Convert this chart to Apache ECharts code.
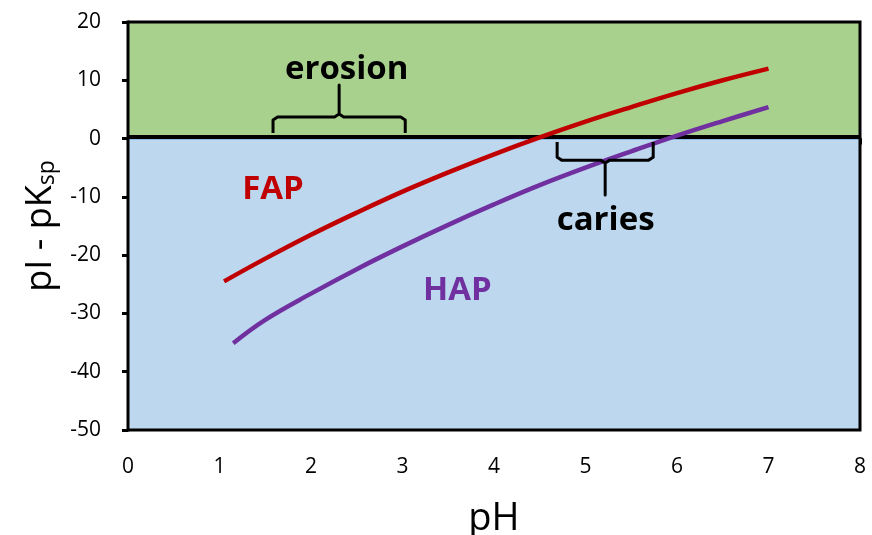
<!DOCTYPE html>
<html><head><meta charset="utf-8">
<script src="https://cdn.jsdelivr.net/npm/echarts@6/dist/echarts.min.js"></script>
<style>html,body{margin:0;padding:0;background:#fff}#c{width:872px;height:535px}</style>
</head><body><div id="c"></div>
<script>
// Data
const fapPH = [1.05, 1.5, 2, 2.5, 3, 3.5, 4, 4.5, 5, 5.5, 6, 6.5, 7];
const fapVal = [-24.5, -20.6, -16.5, -12.7, -9.1, -5.8, -2.7, 0.2, 2.9, 5.4, 7.8, 10.0, 12.0];
const hapPH = [1.15, 1.5, 2, 2.5, 3, 3.5, 4, 4.5, 5, 5.5, 6, 6.5, 7];
const hapVal = [-35.1, -31.1, -26.6, -22.4, -18.5, -14.8, -11.3, -8.0, -5.0, -2.2, 0.5, 3.0, 5.4];
const erosionRange = [1.585, 3.03];
const cariesRange = [4.69, 5.74];
const labels = [
  {text: 'FAP', x: 1.585, y: -8.8, color: '#c00000'},
  {text: 'HAP', x: 3.6, y: -26, color: '#7030a0'},
  {text: 'erosion', x: 2.39, y: 11.8, color: '#000000'},
  {text: 'caries', x: 5.22, y: -14, color: '#000000'}
];
const FONT = '"Open Sans", Lato, sans-serif';

function bracketUp(x0, x1, yBase, yBar, yTip) {
  const xm = (x0 + x1) / 2, dx = 0.05, dy = 0.5;
  return [[x0, yBase], [x0, yBar - dy], [x0 + dx, yBar], [xm - dx, yBar], [xm, yBar + dy], [xm, yTip],
          [xm, yBar + dy], [xm + dx, yBar], [x1 - dx, yBar], [x1, yBar - dy], [x1, yBase]];
}
function bracketDown(x0, x1, yBase, yBar, yTip) {
  const xm = (x0 + x1) / 2, dx = 0.05, dy = 0.5;
  return [[x0, yBase], [x0, yBar + dy], [x0 + dx, yBar], [xm - dx, yBar], [xm, yBar - dy], [xm, yTip],
          [xm, yBar - dy], [xm + dx, yBar], [x1 - dx, yBar], [x1, yBar + dy], [x1, yBase]];
}

const chart = echarts.init(document.getElementById('c'), null, {renderer: 'canvas'});
chart.setOption({
  animation: false,
  backgroundColor: '#ffffff',
  grid: {left: 128, right: 12, top: 22, bottom: 105, show: true, borderColor: '#000', borderWidth: 3, z: 5,
         containLabel: false, outerBoundsMode: 'none'},
  xAxis: {
    type: 'value', min: 0, max: 8, interval: 1,
    name: 'pH', nameLocation: 'middle', nameGap: 70,
    nameTextStyle: {fontFamily: FONT, fontSize: 38, color: '#000'},
    axisLine: {show: true, lineStyle: {color: '#000', width: 3}},
    axisTick: {show: true, length: 6, lineStyle: {color: '#000', width: 3}},
    axisLabel: {fontFamily: FONT, fontSize: 21, color: '#000', margin: 27},
    splitLine: {show: false}
  },
  yAxis: {
    type: 'value', min: -50, max: 20, interval: 10,
    name: '{a|pI - pK}{b|sp}', nameLocation: 'middle', nameGap: 68, nameRotate: 90,
    nameTextStyle: {rich: {
      a: {fontFamily: FONT, fontSize: 36, color: '#000'},
      b: {fontFamily: FONT, fontSize: 23, color: '#000', verticalAlign: 'bottom', padding: [15, 0, 0, 0]}
    }},
    axisLine: {show: true, lineStyle: {color: '#000', width: 3}},
    axisTick: {show: true, length: 6, lineStyle: {color: '#000', width: 3}},
    axisLabel: {fontFamily: FONT, fontSize: 21, color: '#000', margin: 27},
    splitLine: {show: false}
  },
  series: [
    {
      type: 'line', data: [], silent: true,
      markArea: {silent: true, data: [
        [{coord: [0, 20], itemStyle: {color: '#a9d18e'}}, {coord: [8, 0]}],
        [{coord: [0, 0], itemStyle: {color: '#bdd7ee', borderColor: '#5b9bd5', borderWidth: 2}}, {coord: [8, -50]}]
      ]}
    },
    {type: 'line', data: [[0, 0.25], [8, 0.25]], symbol: 'none', lineStyle: {color: '#000', width: 4}, z: 3, silent: true},
    {type: 'line', data: fapPH.map((x, i) => [x, fapVal[i]]), smooth: 0.4, symbol: 'none',
     lineStyle: {color: '#c00000', width: 4.5}, z: 4},
    {type: 'line', data: hapPH.map((x, i) => [x, hapVal[i]]), smooth: 0.4, symbol: 'none',
     lineStyle: {color: '#7030a0', width: 4.5}, z: 4},
    {type: 'line', data: bracketUp(erosionRange[0], erosionRange[1], 0.96, 3.7, 9.2), symbol: 'none',
     lineStyle: {color: '#000', width: 3, join: 'round'}, z: 4},
    {type: 'line', data: bracketDown(cariesRange[0], cariesRange[1], -0.6, -3.7, -9.7), symbol: 'none',
     lineStyle: {color: '#000', width: 3, join: 'round'}, z: 4},
    {type: 'scatter', symbolSize: 1, itemStyle: {color: 'rgba(0,0,0,0)', opacity: 1}, z: 6,
     data: labels.map(l => ({value: [l.x, l.y], label: {show: true, position: 'inside', formatter: l.text, opacity: 1,
       fontFamily: FONT, fontWeight: 'bold', fontSize: 33, color: l.color}}))}
  ]
});
</script></body></html>
